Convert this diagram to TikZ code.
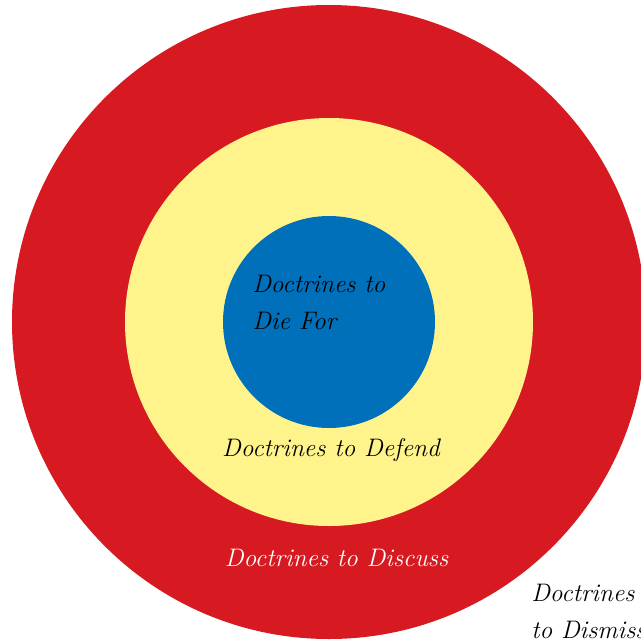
\documentclass[tikz,border=0pt]{standalone}
\usepackage{tikz}
\usetikzlibrary{positioning}
\definecolor{ringred}{RGB}{215,26,33}
\definecolor{ringyellow}{RGB}{255,244,140}
\definecolor{ringblue}{RGB}{0,112,187}

\begin{document}
\begin{tikzpicture}[x=0.75pt, y=-0.75pt]
      \useasboundingbox (0,0) rectangle (641,643);
      \clip (0,0) rectangle (641,643);
      \fill[white] (0,0) rectangle (641,643);
      \tikzstyle{label} = [inner sep=0pt, font=\fontsize{19}{27.75}\selectfont\itshape]

      \coordinate (O) at (329,322);
      \fill[ringred] (O) circle (237.75pt);
      \fill[ringyellow] (O) circle (153pt);
      \fill[ringblue] (O) circle (79.5pt);

      \node[label, anchor=west, align=left] (diefor) at (252,302) {Doctrines to\\Die For};
      \node[label] (defend) at (331,450) {Doctrines to Defend};
      \node[label, white] (discuss) at (336.5,558) {Doctrines to Discuss};
      \node[label, anchor=west, align=left] (dismiss) at (531,611) {Doctrines\\to Dismiss};
    \end{tikzpicture}
\end{document}
